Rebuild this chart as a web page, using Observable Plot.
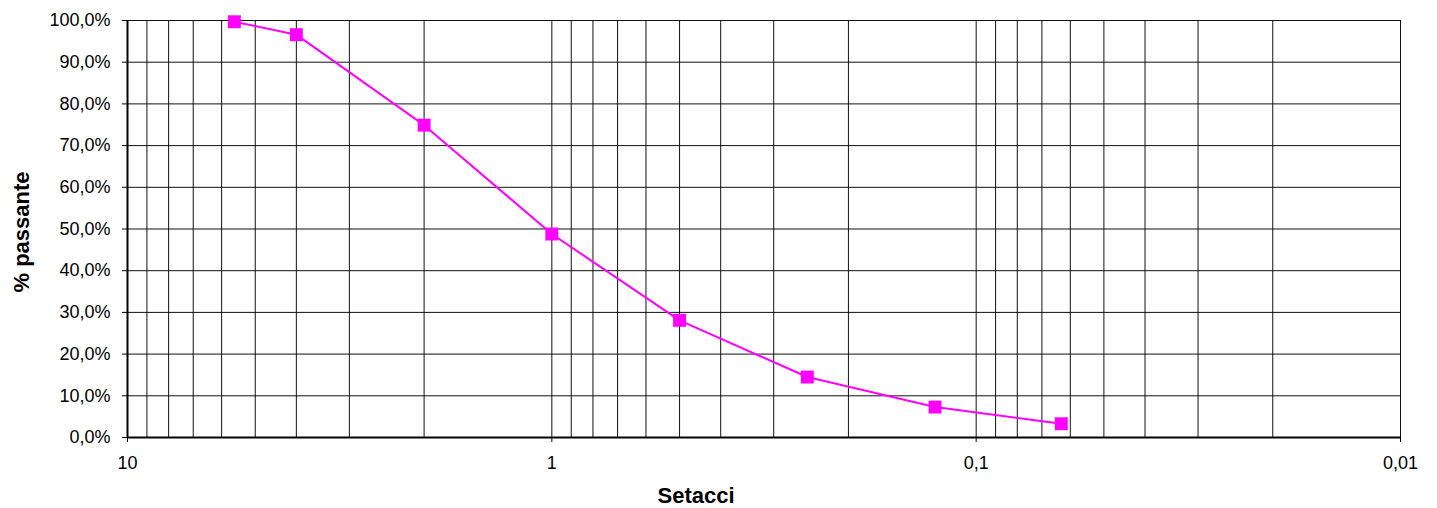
<!DOCTYPE html>
<html>
<head>
<meta charset="utf-8">
<script src="https://cdn.jsdelivr.net/npm/d3@7"></script>
<script src="https://cdn.jsdelivr.net/npm/@observablehq/plot@0.6"></script>
<style>
  html, body { margin: 0; padding: 0; background: #fff; }
  #chart { width: 1437px; height: 508px; }
</style>
</head>
<body>
<div id="chart"></div>
<script>
// Sieve sizes (mm) and percent passing
const sieves = [5.6, 4, 2, 1, 0.5, 0.25, 0.125, 0.063];
const passing = [99.7, 96.6, 74.9, 48.8, 28.1, 14.5, 7.3, 3.3];

// Axis ticks and labels
const xTicks = [10, 1, 0.1, 0.01];
const xTickLabels = ["10", "1", "0,1", "0,01"];
const yTicks = [0, 10, 20, 30, 40, 50, 60, 70, 80, 90, 100];
const xGrid = [10, 9, 8, 7, 6, 5, 4, 3, 2,
               1, 0.9, 0.8, 0.7, 0.6, 0.5, 0.4, 0.3, 0.2,
               0.1, 0.09, 0.08, 0.07, 0.06, 0.05, 0.04, 0.03, 0.02, 0.01];

const xTitle = "Setacci";
const yTitle = "% passante";

const data = sieves.map((s, i) => ({size: s, pass: passing[i]}));
const color = "#ff00ff";

const chart = Plot.plot({
  width: 1437,
  height: 508,
  marginLeft: 127,
  marginRight: 37,
  marginTop: 20,
  marginBottom: 71,
  style: {fontFamily: "'Liberation Sans', Arial, sans-serif", fontSize: "18px", color: "#000", background: "#fff"},
  x: {type: "log", domain: [10, 0.01]},
  y: {domain: [0, 100]},
  marks: [
    Plot.ruleX(xGrid, {stroke: "#111", strokeWidth: 1}),
    Plot.ruleY(yTicks, {stroke: "#111", strokeWidth: 1}),
    Plot.ruleX([10], {stroke: "#000", strokeWidth: 2}),
    Plot.ruleY([0], {stroke: "#000", strokeWidth: 2}),
    Plot.axisY({ticks: yTicks, tickSize: 5, tickPadding: 12, fontSize: 18, label: null,
      tickFormat: d => d.toFixed(1).replace(".", ",") + "%"}),
    Plot.axisX({ticks: xTicks, tickSize: 5, tickPadding: 14, fontSize: 18, label: null,
      tickFormat: d => xTickLabels[xTicks.indexOf(d)]}),
    Plot.line(data, {x: "size", y: "pass", stroke: color, strokeWidth: 2}),
    Plot.dot(data, {x: "size", y: "pass", symbol: "square", r: 7.3, fill: color, stroke: "none"}),
    Plot.text([xTitle], {frameAnchor: "bottom", textAnchor: "middle", lineAnchor: "middle", dx: -68, dy: 58, fontWeight: "bold", fontSize: 22, fill: "#000"}),
    Plot.text([yTitle], {frameAnchor: "left", textAnchor: "middle", lineAnchor: "middle", dx: -106, dy: 3, rotate: -90, fontWeight: "bold", fontSize: 22, fill: "#000"})
  ]
});
document.getElementById("chart").appendChild(chart);
</script>
</body>
</html>
